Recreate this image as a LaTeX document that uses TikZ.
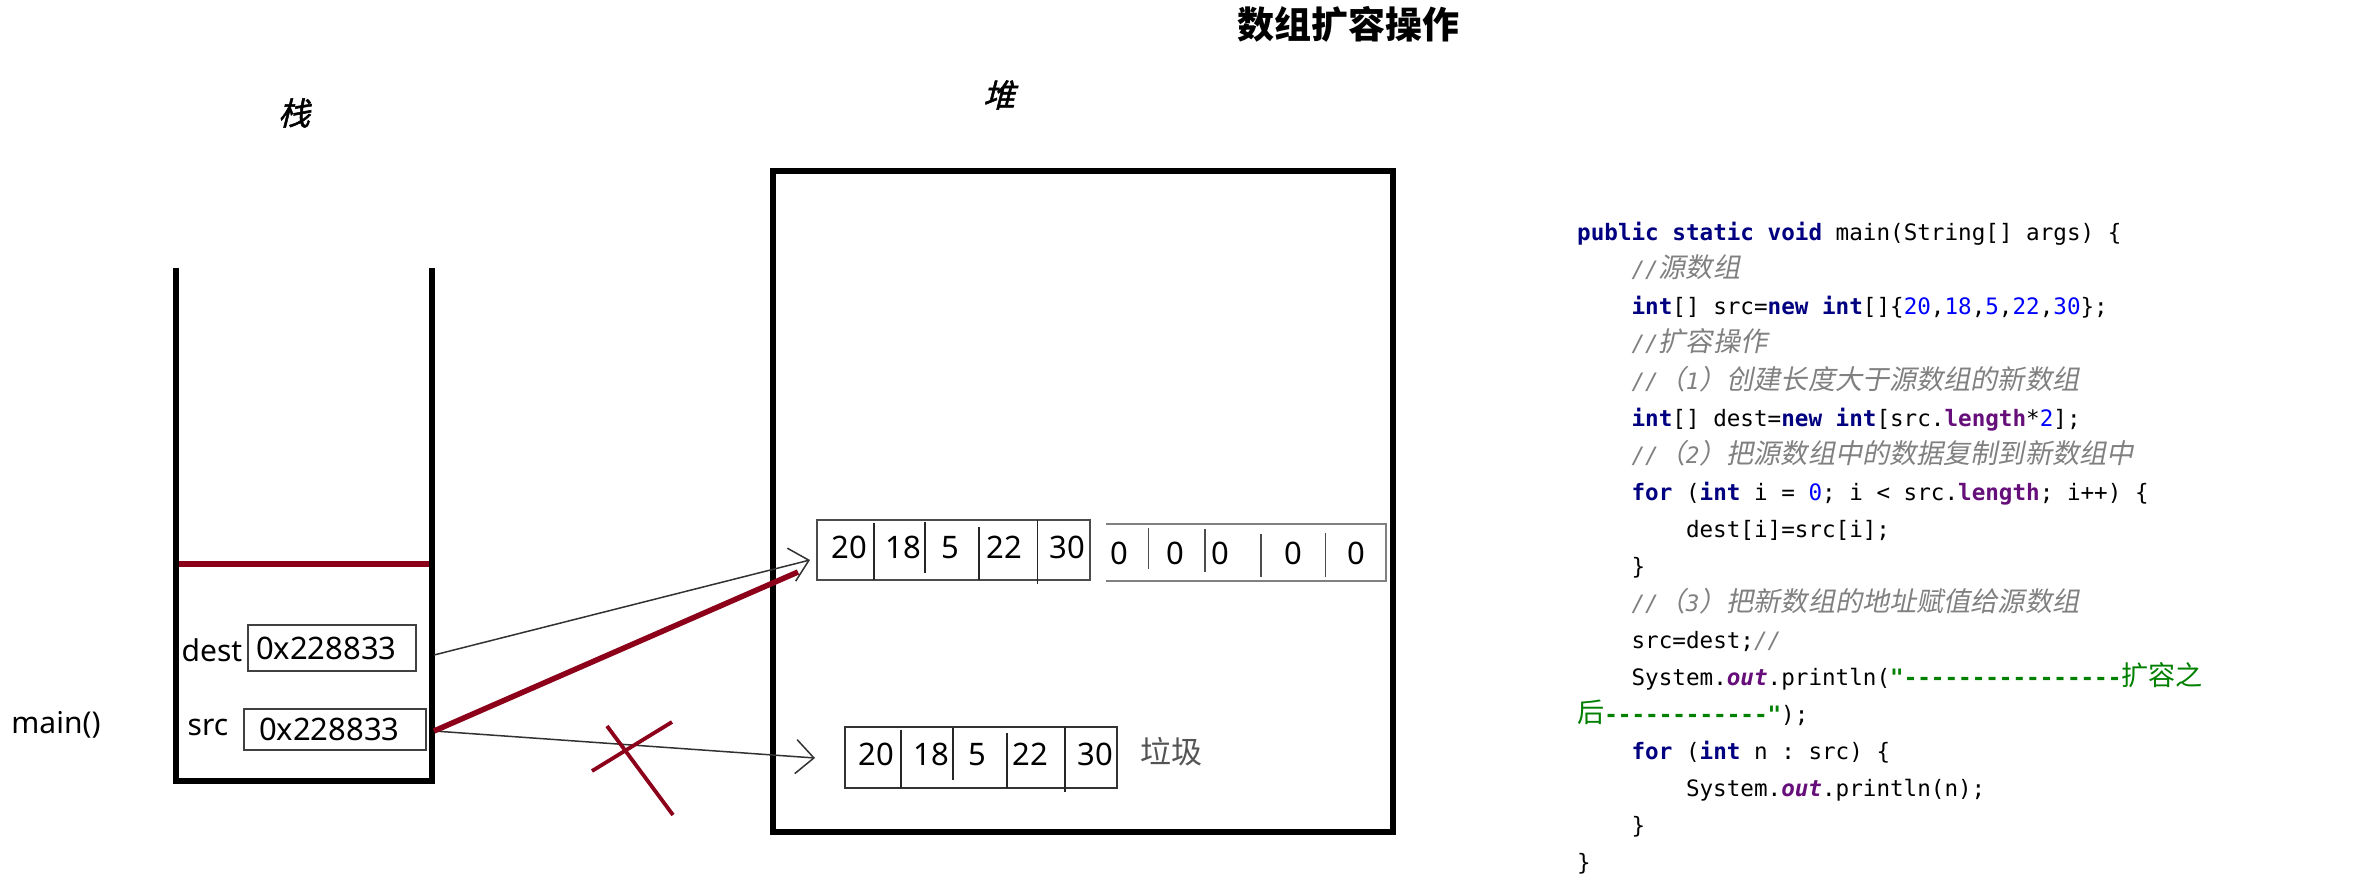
\documentclass[tikz,border=0pt]{standalone}
\usepackage{fontspec}
\setmainfont{Noto Sans}
\setmonofont{DejaVu Sans Mono}
\newfontfamily\cjk{Noto Sans CJK SC}
\newfontfamily\cjksl[FakeSlant=0.25,FakeBold=1.5]{Noto Sans CJK SC}
\newfontfamily\cjkcode[Scale=1.2]{Noto Sans CJK SC}
\newfontfamily\cjkcodei[Scale=1.2,FakeSlant=0.2]{Noto Sans CJK SC}
\usetikzlibrary{arrows.meta}
\definecolor{redc}{RGB}{140,0,26}
\definecolor{kwc}{RGB}{0,0,128}
\definecolor{numc}{RGB}{0,0,255}
\definecolor{cmc}{RGB}{128,128,128}
\definecolor{fdc}{RGB}{102,14,122}
\definecolor{stc}{RGB}{0,128,0}
\definecolor{connc}{RGB}{50,50,50}
\newcommand\jkw[1]{{\color{kwc}\bfseries #1}}
\newcommand\jnum[1]{{\color{numc}#1}}
\newcommand\jcom[1]{{\color{cmc}\itshape #1}}
\newcommand\jci[1]{{\cjkcodei\mdseries #1}}
\newcommand\jcs[1]{{\cjkcode\mdseries #1}}
\newcommand\jfld[1]{{\color{fdc}\bfseries #1}}
\newcommand\jfldi[1]{{\color{fdc}\bfseries\itshape #1}}
\newcommand\jstr[1]{{\color{stc}\bfseries #1}}
\tikzset{
  wall/.style={line width=5.5pt, line join=miter},
  redbar/.style={draw=redc, line width=5.5pt},
  conn/.style={draw=connc, line width=1.5pt, -{Straight Barb[length=18pt,width=34pt,line width=1.5pt]}},
  redx/.style={draw=redc, line width=3.8pt},
  lbl/.style={inner sep=0pt, font=\fontsize{30}{36}\selectfont},
  num/.style={inner sep=0pt, anchor=base, font=\fontsize{31}{37}\selectfont},
  addrbox/.style={draw=black!75, line width=1.5pt, minimum height=#1, text width=152pt, align=left, font=\fontsize{31}{37}\selectfont},
  arrbox/.style={draw=black!70, line width=2pt, inner sep=0pt},
  div/.style={draw=black!85, line width=1.5pt},
  zarr/.style={draw=black!50, line width=2.7pt},
  zdiv/.style={draw=black!70, line width=1.8pt},
  codeline/.style={anchor=base west, inner sep=0pt, font=\ttfamily\fontsize{22.6}{27}\selectfont},
}
\begin{document}
\begin{tikzpicture}[x=1pt,y=-1pt]
\fill[white] (0,0) rectangle (2373,882);
\useasboundingbox (0,0) rectangle (2373,882);

% titles
\node[inner sep=0pt, font=\cjk\bfseries\fontsize{37}{40}\selectfont] (title) at (1348,24) {数组扩容操作};
\node[inner sep=0pt, font=\cjksl\fontsize{32}{36}\selectfont] (zhan) at (294,113) {栈};
\node[inner sep=0pt, font=\cjksl\fontsize{32}{36}\selectfont] (dui) at (999,95) {堆};

% stack
\draw[wall] (176,268) -- (176,781) -- (432,781) -- (432,268);
\draw[redbar] (179,564) -- (429,564);
\node[lbl, anchor=base] (mainlbl) at (56,733) {main()};
\node[lbl, anchor=base] (destlbl) at (212,661) {dest};
\node[lbl, anchor=base] (srclbl) at (208,735) {src};
\node[addrbox=46pt, inner xsep=8pt] (destbox) at (332,648) {0x228833};
\node[addrbox=41pt, inner xsep=15pt] (srcbox) at (335,729.5) {0x228833};

% heap
\draw[wall] (773,171) rectangle (1393,832);

% array src (new) top
\node[arrbox, minimum width=273pt, minimum height=60pt] (arrA) at (953.5,550) {};
\draw[div] (874,523) -- (874,580);
\draw[div] (925,522) -- (925,573);
\draw[div] (979,527) -- (979,580);
\draw[div] (1037.5,520) -- (1037.5,584);
\node[num] (a1) at (849,558) {20};
\node[num] (a2) at (903,558) {18};
\node[num] (a3) at (950,558) {5};
\node[num] (a4) at (1004,558) {22};
\node[num] (a5) at (1067,558) {30};

% zero part
\draw[zarr] (1106,524) -- (1386,524) -- (1386,581) -- (1106,581);
\draw[zdiv] (1148.5,528) -- (1148.5,569);
\draw[zdiv] (1205,529) -- (1205,572);
\draw[zdiv] (1261,534) -- (1261,577);
\draw[zdiv] (1325.5,533) -- (1325.5,577);
\node[num] (z1) at (1119.5,564) {0};
\node[num] (z2) at (1175,564) {0};
\node[num] (z3) at (1220,564) {0};
\node[num] (z4) at (1293,564) {0};
\node[num] (z5) at (1356,564) {0};

% old array bottom
\node[arrbox, draw=black!80, minimum width=272pt, minimum height=61pt] (arrB) at (981,757.5) {};
\draw[div] (901,730) -- (901,788);
\draw[div] (953,728) -- (953,780);
\draw[div] (1007,733) -- (1007,788);
\draw[div] (1065,727) -- (1065,792);
\node[num] (b1) at (876,765) {20};
\node[num] (b2) at (931,765) {18};
\node[num] (b3) at (977,765) {5};
\node[num] (b4) at (1030,765) {22};
\node[num] (b5) at (1095.5,765) {30};
\node[inner sep=0pt, text=black!67, font=\cjk\fontsize{31}{36}\selectfont] (garbage) at (1171,752) {垃圾};

% connectors
\coordinate (destOut) at (434,655);
\coordinate (srcOut) at (434,731);
\coordinate (tipA) at (810,560);
\coordinate (redEnd) at (798,572);
\coordinate (tipB) at (815,758);
\draw[conn] (destOut) -- (tipA);
\draw[conn] (srcOut) -- (tipB);
\draw[redbar] (srcOut) -- (redEnd);

% red cross
\draw[redx] (607,726) -- (673,815);
\draw[redx] (672,722) -- (592,771);

% code
\node[codeline] (c1) at (1577,241) {\jkw{public static void} main(String[] args) \{};
\node[codeline] (c2) at (1631.4,278) {\jcom{//\jci{源数组}}};
\node[codeline] (c3) at (1631.4,315) {\jkw{int}[] src=\jkw{new} \jkw{int}[]\{\jnum{20},\jnum{18},\jnum{5},\jnum{22},\jnum{30}\};};
\node[codeline] (c4) at (1631.4,352) {\jcom{//\jci{扩容操作}}};
\node[codeline] (c5) at (1631.4,389) {\jcom{//\jci{（}1\jci{）创建长度大于源数组的新数组}}};
\node[codeline] (c6) at (1631.4,426) {\jkw{int}[] dest=\jkw{new} \jkw{int}[src.\jfld{length}*\jnum{2}];};
\node[codeline] (c7) at (1631.4,463) {\jcom{//\jci{（}2\jci{）把源数组中的数据复制到新数组中}}};
\node[codeline] (c8) at (1631.4,500) {\jkw{for} (\jkw{int} i = \jnum{0}; i < src.\jfld{length}; i++) \{};
\node[codeline] (c9) at (1685.8,537) {dest[i]=src[i];};
\node[codeline] (c10) at (1631.4,574) {\}};
\node[codeline] (c11) at (1631.4,611) {\jcom{//\jci{（}3\jci{）把新数组的地址赋值给源数组}}};
\node[codeline] (c12) at (1631.4,648) {src=dest;\jcom{//}};
\node[codeline] (c13) at (1631.4,685) {System.\jfldi{out}.println(\jstr{"----------------\jcs{扩容之}}};
\node[codeline] (c14) at (1577,722) {\jstr{\jcs{后}------------"});};
\node[codeline] (c15) at (1631.4,759) {\jkw{for} (\jkw{int} n : src) \{};
\node[codeline] (c16) at (1685.8,796) {System.\jfldi{out}.println(n);};
\node[codeline] (c17) at (1631.4,833) {\}};
\node[codeline] (c18) at (1577,870) {\}};
\end{tikzpicture}
\end{document}
